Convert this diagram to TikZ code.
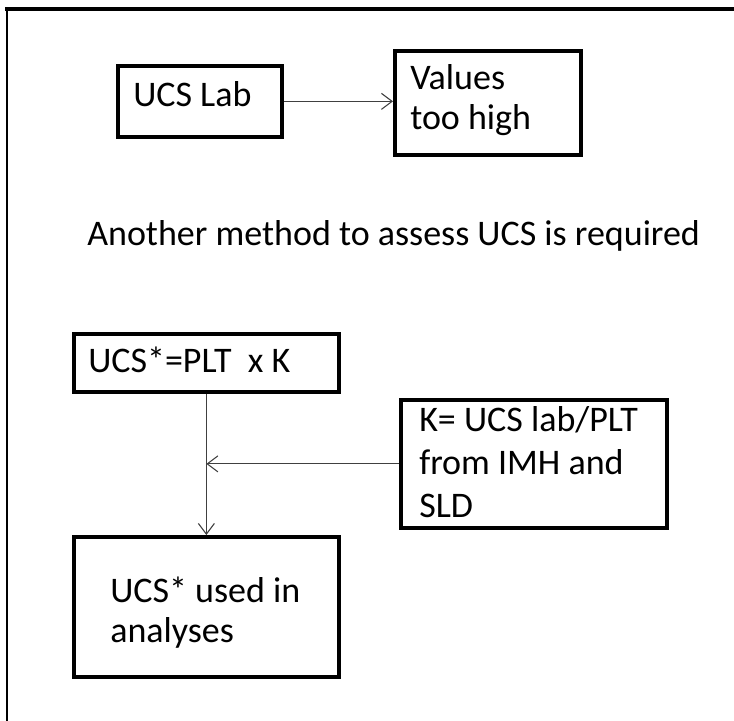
\documentclass[tikz,border=0pt]{standalone}
\usepackage{fontspec}
\setmainfont{Carlito}
\usetikzlibrary{arrows.meta}
\begin{document}
\begin{tikzpicture}[x=0.75pt,y=-0.75pt,
  box/.style={draw=black,line width=2.8pt,fill=white,rectangle,inner sep=0pt,anchor=north west},
  txt/.style={font=\fontsize{27}{32}\selectfont,inner sep=0pt,anchor=base west,text=black},
  arr/.style={draw=black!75,line width=0.8pt,-{Straight Barb[length=8pt,width=12pt,line width=0.8pt]}},
  frame/.style={draw=black,line cap=rect}]
\useasboundingbox (0,0) rectangle (734,720);

% outer frame: top and left edges only
\coordinate (ftl) at (7,9);
\coordinate (ftr) at (734,9);
\coordinate (fbl) at (7,720);
\draw[frame,line width=2.4pt] (ftl) -- (ftr);
\draw[frame,line width=1.5pt] (ftl) -- (fbl);

% boxes
\node[box,minimum width=164*0.75pt,minimum height=71*0.75pt] (lab) at (116,64) {};
\node[box,minimum width=186*0.75pt,minimum height=104*0.75pt] (val) at (393,49) {};
\node[box,minimum width=265*0.75pt,minimum height=58*0.75pt] (plt) at (72,332) {};
\node[box,minimum width=266*0.75pt,minimum height=128*0.75pt] (kbox) at (399,398) {};
\node[box,minimum width=265*0.75pt,minimum height=140*0.75pt] (use) at (72,535) {};

% texts
\node[txt] (tlab) at (133,107) {UCS Lab};
\node[txt] (tval1) at (410,90) {Values};
\node[txt] (tval2) at (410,130) {too high};
\node[txt] (tmid) at (87,245) {Another method to assess UCS is required};
\node[txt] (tplt) at (88,372) {UCS*=PLT\ \ x K};
\node[txt] (tk1) at (419,431) {K= UCS lab/PLT};
\node[txt] (tk2) at (419,474) {from IMH and};
\node[txt] (tk3) at (419,517) {SLD};
\node[txt] (tuse1) at (110,602) {UCS* used in};
\node[txt] (tuse2) at (110,642) {analyses};

% connectors
\draw[arr] (lab.east) -- (lab.east -| val.west);
\draw[arr] (plt.south) -- (use.north);
\draw[arr] (kbox.west) -- (kbox.west -| plt.south);
\end{tikzpicture}
\end{document}
